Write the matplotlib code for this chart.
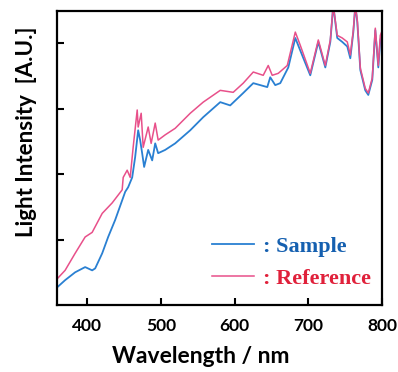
import matplotlib.pyplot as plt

# --- data (wavelength in nm, intensity in arbitrary units) ---
ref_wl = [359.3, 370.1, 383.7, 397.3, 406.8, 420.4, 433.9, 447.5, 448.9, 454.3,
          458.4, 462.4, 467.9, 469.2, 473.3, 476.0, 482.8, 486.8, 492.3, 496.3,
          505.8, 519.4, 539.8, 557.4, 580.5, 598.1, 611.7, 625.3, 638.8, 645.6,
          651.0, 659.2, 671.4, 682.3, 689.0, 702.6, 713.5, 723.0, 729.8, 733.8,
          739.2, 746.0, 752.8, 756.9, 761.0, 763.7, 766.4, 770.5, 777.2, 781.3,
          786.7, 790.8, 794.9, 797.6, 800.3]
ref_int = [0.40, 0.53, 0.79, 1.04, 1.11, 1.40, 1.56, 1.76, 1.95, 2.06,
           1.95, 2.41, 2.98, 2.72, 2.93, 2.41, 2.72, 2.47, 2.78, 2.52,
           2.60, 2.70, 2.93, 3.10, 3.28, 3.25, 3.39, 3.56, 3.51, 3.66,
           3.51, 3.54, 3.66, 4.17, 3.97, 3.54, 4.05, 3.66, 4.05, 4.58,
           4.12, 4.08, 4.02, 3.82, 4.20, 4.58, 4.35, 3.62, 3.31, 3.24,
           3.47, 4.23, 3.66, 4.12, 4.20]

smp_wl = [359.3, 370.1, 383.7, 397.3, 406.8, 410.9, 420.4, 428.5, 438.0, 447.5,
          451.6, 455.6, 461.1, 465.1, 469.2, 471.9, 474.6, 477.3, 482.8, 488.2,
          492.3, 496.3, 505.8, 519.4, 539.8, 557.4, 580.5, 594.0, 611.7, 625.3,
          644.3, 648.3, 655.1, 661.9, 672.8, 682.3, 689.0, 702.6, 713.5, 723.0,
          729.8, 733.8, 739.2, 746.0, 752.8, 756.9, 761.0, 763.7, 766.4, 770.5,
          777.2, 781.3, 786.7, 790.8, 794.9, 797.6, 800.3]
smp_int = [0.27, 0.38, 0.50, 0.58, 0.53, 0.56, 0.79, 1.04, 1.30, 1.60,
           1.73, 1.80, 1.95, 2.26, 2.67, 2.52, 2.32, 2.11, 2.37, 2.21,
           2.47, 2.32, 2.37, 2.47, 2.67, 2.87, 3.10, 3.05, 3.24, 3.39,
           3.33, 3.48, 3.36, 3.39, 3.63, 4.08, 3.89, 3.51, 4.02, 3.63,
           4.02, 4.58, 4.08, 4.02, 3.95, 3.77, 4.17, 4.58, 4.32, 3.59,
           3.28, 3.21, 3.44, 4.20, 3.63, 4.05, 4.15]

x_ticks = [400, 500, 600, 700, 800]
y_ticks = [1, 2, 3, 4]

fig = plt.figure(figsize=(3.98, 3.72), dpi=100)
ax = fig.add_axes([0.143, 0.180, 0.817, 0.790])

ax.plot(smp_wl, smp_int, color='#2a80d2', lw=1.3, label=': Sample')
ax.plot(ref_wl, ref_int, color='#e8508a', lw=1.1, label=': Reference')

ax.set_xlim(359, 800)
ax.set_ylim(0, 4.49)
ax.set_xticks(x_ticks)
ax.set_yticks(y_ticks)
ax.set_yticklabels([])
ax.set_xticklabels([str(t) for t in x_ticks], fontfamily='Lato',
                   fontweight='bold', fontsize=12.5)
ax.tick_params(direction='in', length=5, width=1.5, pad=9)

for s in ax.spines.values():
    s.set_linewidth(1.6)

ax.set_xlabel('Wavelength / nm', fontfamily='Lato', fontweight='bold', fontsize=16.5)
ax.xaxis.set_label_coords(0.443, -0.140)
ax.set_ylabel('Light Intensity  [A.U.]', fontfamily='Lato', fontweight='bold',
              fontsize=16)
ax.yaxis.set_label_coords(-0.06, 0.59)

leg = ax.legend(loc='upper left', bbox_to_anchor=(0.477, 0.233), frameon=False,
                handlelength=1.9, handletextpad=0.4, labelspacing=0.5,
                borderpad=0, borderaxespad=0,
                prop={'family': 'Liberation Serif', 'weight': 'bold', 'size': 16})
leg.get_texts()[0].set_color('#1560b0')
leg.get_texts()[1].set_color('#e0203a')

fig.savefig('out.png', dpi=100)
